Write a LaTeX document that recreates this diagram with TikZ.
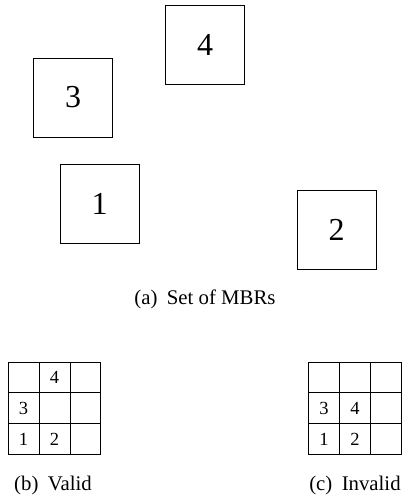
\documentclass[tikz,border=0pt]{standalone}
\usepackage{fontspec}
\setmainfont{Liberation Serif}
\usetikzlibrary{positioning}

\begin{document}
\begin{tikzpicture}[x=1pt,y=1pt,
  mbr/.style={draw,line width=0.9pt,minimum size=79pt,inner sep=0pt,font=\fontsize{32}{38}\selectfont},
  cellnum/.style={inner sep=0pt,font=\fontsize{18.5}{22}\selectfont},
  caption/.style={inner sep=0pt,anchor=base,font=\fontsize{20.8}{25}\selectfont}]
  \useasboundingbox (0,0) rectangle (402,498);
  % set of MBRs
  \node[mbr] (r4) at (205,453) {4};
  \node[mbr] (r3) at (73,400.5) {3};
  \node[mbr] (r1) at (99.5,294.5) {1};
  \node[mbr] (r2) at (336.5,268.5) {2};
  \node[caption] (capa) at (205,193) {(a)\hspace{0.45em}Set of MBRs};
  % valid grid
  \draw[line width=1pt,shift={(8,43)}] (0,0) grid[step=31] (93,93);
  \node[cellnum] (b1) at (23.5,58.5) {1};
  \node[cellnum] (b2) at (54.5,58.5) {2};
  \node[cellnum] (b3) at (23.5,89.5) {3};
  \node[cellnum] (b4) at (54.5,120.5) {4};
  \node[caption] (capb) at (53,8) {(b)\hspace{0.45em}Valid};
  % invalid grid
  \draw[line width=1pt,shift={(308.5,43)}] (0,0) grid[step=31] (93,93);
  \node[cellnum] (c1) at (324,58.5) {1};
  \node[cellnum] (c2) at (355,58.5) {2};
  \node[cellnum] (c3) at (324,89.5) {3};
  \node[cellnum] (c4) at (355,89.5) {4};
  \node[caption] (capc) at (355,8) {(c)\hspace{0.45em}Invalid};
\end{tikzpicture}
\end{document}
